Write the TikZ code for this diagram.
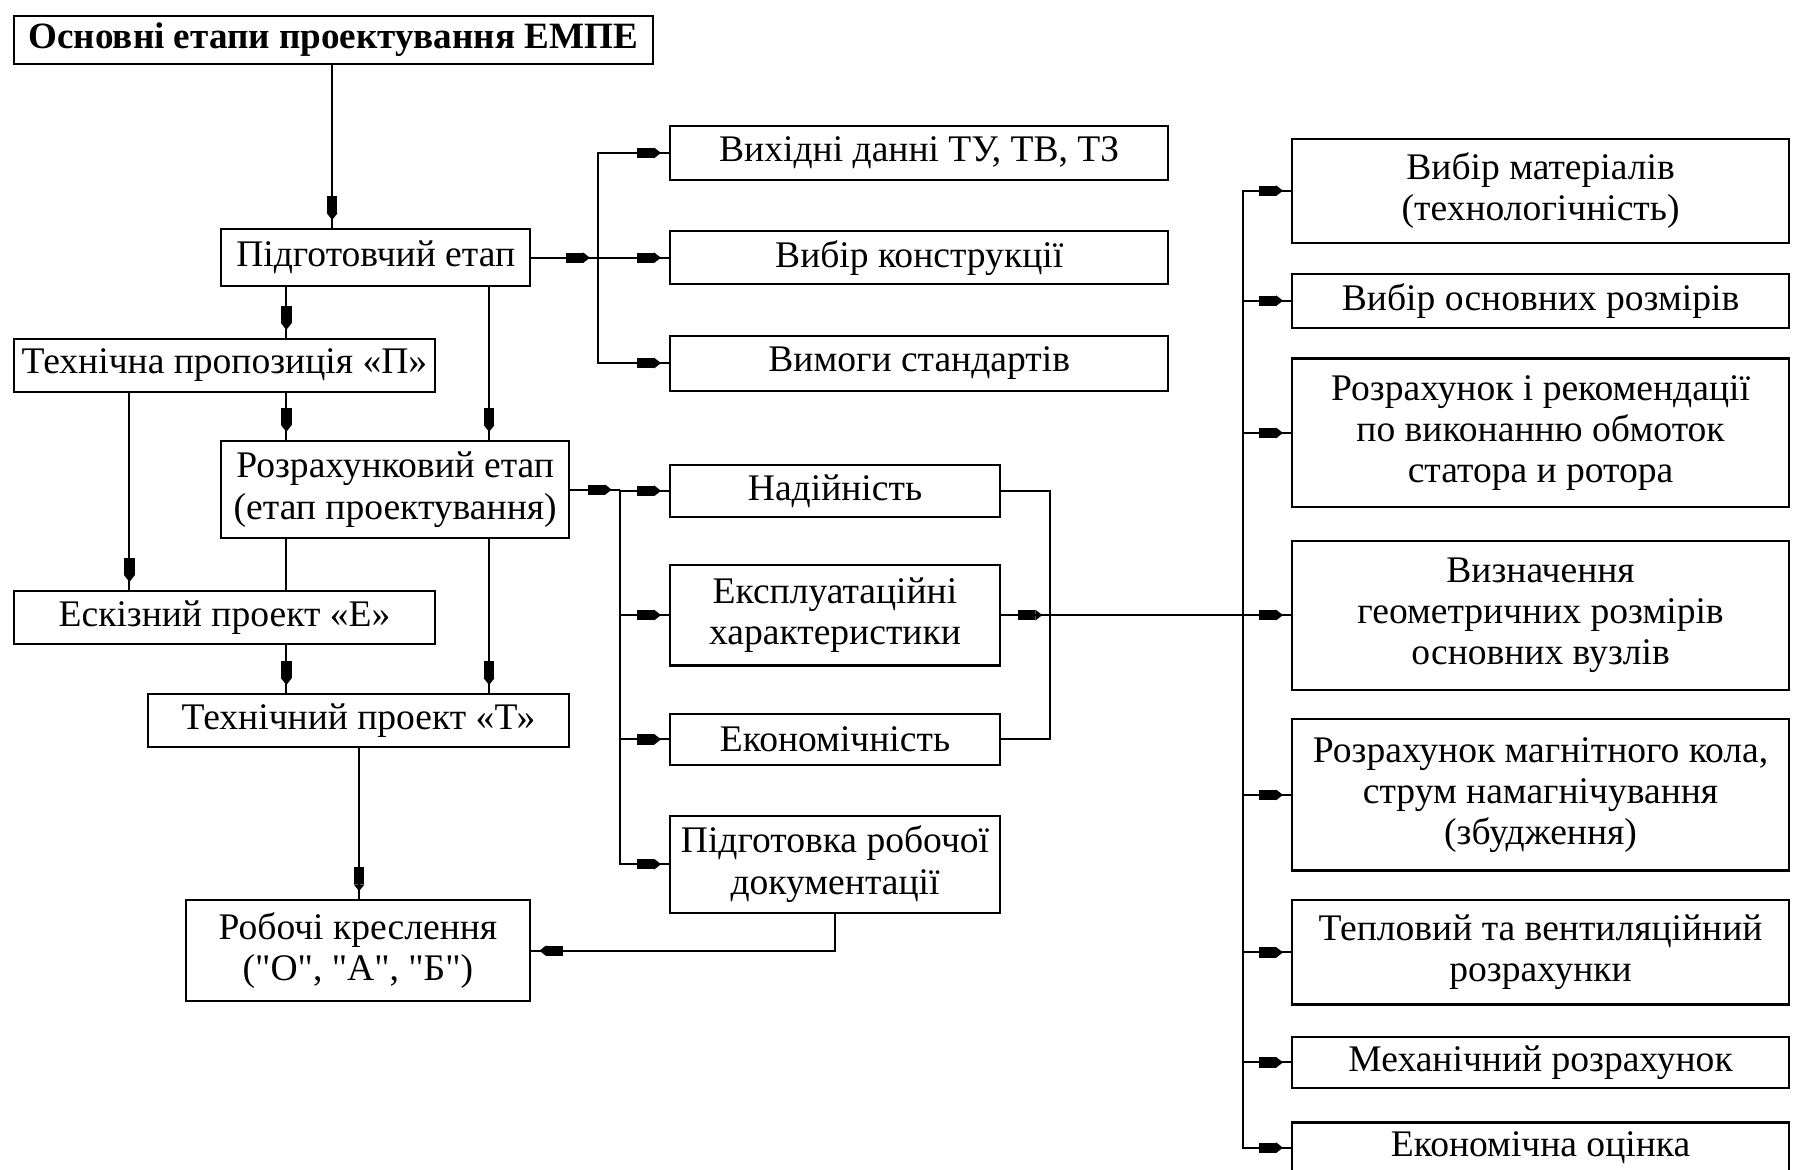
\documentclass[tikz,border=0pt]{standalone}
\usepackage{fontspec}
\setmainfont{Liberation Serif}
\newfontfamily\qfont{Liberation Serif}[Ligatures=ResetAll]
\usetikzlibrary{arrows.meta,decorations.markings}
\newcommand\mybox[6]{\node[box,minimum width={(#3-#2)*0.5pt},minimum height={(#5-#4)*0.5pt}] (#1) at ({(#2+#3)/2},{(#4+#5)/2}) {#6};}
\newcommand\sq{{\qfont\symbol{34}}}
\begin{document}
\begin{tikzpicture}[x=0.5pt,y=-0.5pt,
  box/.style={draw,line width=0.9pt,inner sep=0pt,align=center,font=\fontsize{16.4}{18}\selectfont},
  conn/.style={line width=0.9pt},
  tip/.style={postaction={decorate},decoration={markings,mark=at position -3.5pt with {\arrow{Rectangle[length=7.5pt,width=4.5pt] Triangle[length=3pt,width=4.5pt]}}}}
  ]
\fill[white] (0,0) rectangle (1568,1021);
\useasboundingbox (0,0) rectangle (1568,1021);
% column coordinates
\coordinate (x113) at (113,0);
\coordinate (x250) at (250,0);
\coordinate (x290) at (290,0);
\coordinate (x313) at (313.5,0);
\coordinate (x427) at (427,0);
% left chain
\mybox{title}{12}{570}{14}{56}{\fontsize{16.2}{18}\selectfont\bfseries Основні етапи проектування ЕМПЕ}
\mybox{pid}{193}{463}{200}{250}{Підготовчий етап}
\mybox{tp}{12}{380}{296}{342}{Технічна пропозиція «П»}
\mybox{roz}{193}{497}{385}{470}{Розрахунковий етап\\(етап проектування)}
\mybox{esk}{12}{380}{516}{562}{Ескізний проект «Е»}
\mybox{tpr}{129}{497}{606}{652}{Технічний проект «Т»}
\mybox{rob}{162}{463}{786}{874}{Робочі креслення\\(\sq О\sq, \sq А\sq, \sq Б\sq)}
% first right group
\mybox{vyh}{585}{1020}{110}{157}{Вихідні данні ТУ, ТВ, ТЗ}
\mybox{vk}{585}{1020}{202}{248}{Вибір конструкції}
\mybox{vym}{585}{1020}{293}{341}{Вимоги стандартів}
% middle group
\mybox{nad}{585}{873}{406}{451}{Надійність}
\mybox{eks}{585}{873}{493}{581}{Експлуатаційні\\характеристики}
\mybox{eko}{585}{873}{623}{668}{Економічність}
\mybox{pidg}{585}{873}{712}{797}{Підготовка робочої\\документації}
% right column
\mybox{vm}{1128}{1562}{121}{212}{Вибір матеріалів\\(технологічність)}
\mybox{vor}{1128}{1562}{239}{286}{Вибір основних розмірів}
\mybox{rr}{1128}{1562}{313}{443}{Розрахунок і рекомендації\\по виконанню обмоток\\статора и ротора}
\mybox{viz}{1128}{1562}{472}{602}{Визначення\\геометричних розмірів\\основних вузлів}
\mybox{rmk}{1128}{1562}{628}{760}{Розрахунок магнітного кола,\\струм намагнічування\\(збудження)}
\mybox{tv}{1128}{1562}{786}{877}{Тепловий та вентиляційний\\розрахунки}
\mybox{mr}{1128}{1562}{905}{950}{Механічний розрахунок}
\mybox{eo}{1128}{1562}{980}{1024}{Економічна оцінка}
% junctions
\coordinate (j1) at (522,225);
\coordinate (j2) at (541,428);
\coordinate (j3) at (917,537);
\coordinate (j4) at (1085,537);
% left connectors
\draw[conn,tip] (title.south -| x290) -- (pid.north -| x290);
\draw[conn,tip] (pid.south -| x250) -- (tp.north -| x250);
\draw[conn,tip] (pid.south -| x427) -- (roz.north -| x427);
\draw[conn,tip] (tp.south -| x250) -- (roz.north -| x250);
\draw[conn,tip] (tp.south -| x113) -- (esk.north -| x113);
\draw[conn] (roz.south -| x250) -- (esk.north -| x250);
\draw[conn,tip] (esk.south -| x250) -- (tpr.north -| x250);
\draw[conn,tip] (roz.south -| x427) -- (tpr.north -| x427);
\draw[conn,tip] (tpr.south -| x313) -- (rob.north -| x313);
\draw[conn,tip] (pidg.south) |- (rob.east);
% first right group
\draw[conn,tip] (pid.east) -- (pid.east -| j1);
\draw[conn,tip] (pid.east -| j1) |- (vyh.west);
\draw[conn,tip] (pid.east -| j1) |- (vk.west);
\draw[conn,tip] (pid.east -| j1) |- (vym.west);
% middle group
\draw[conn,tip] (roz.east) -- (roz.east -| j2);
\draw[conn,tip] (roz.east -| j2) |- (nad.west);
\draw[conn,tip] (roz.east -| j2) |- (eks.west);
\draw[conn,tip] (roz.east -| j2) |- (eko.west);
\draw[conn,tip] (roz.east -| j2) |- (pidg.west);
\draw[conn] (nad.east) -| (j3) |- (eko.east);
\draw[conn,tip] (eks.east) -- (j3);
\draw[conn,tip] (j3) -- (viz.west);
% right column
\draw[conn,tip] (j4) |- (vm.west);
\draw[conn,tip] (j4) |- (vor.west);
\draw[conn,tip] (j4) |- (rr.west);
\draw[conn,tip] (j4) |- (rmk.west);
\draw[conn,tip] (j4) |- (tv.west);
\draw[conn,tip] (j4) |- (mr.west);
\draw[conn,tip] (j4) |- (eo.west);
\end{tikzpicture}
\end{document}
